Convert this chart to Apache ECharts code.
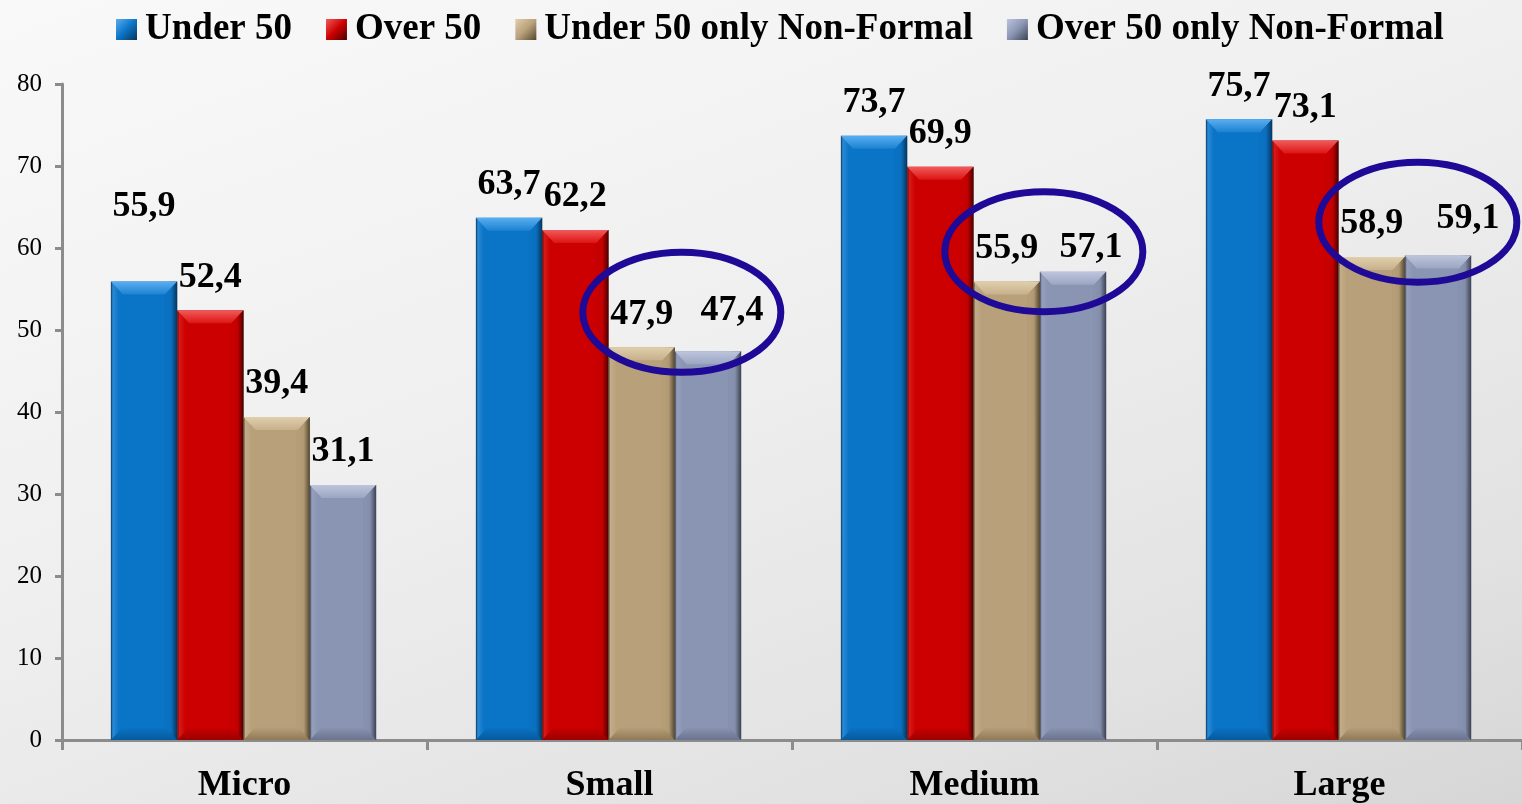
<!DOCTYPE html>
<html>
<head>
<meta charset="utf-8">
<script src="https://cdn.jsdelivr.net/npm/echarts@6/dist/echarts.min.js"></script>
<style>
  html, body { margin: 0; padding: 0; }
  body {
    width: 1522px; height: 804px; overflow: hidden;
    background: linear-gradient(160deg, #f9f9f9 0%, #efefef 45%, #e2e2e2 80%, #d6d6d6 100%);
  }
  #chart { width: 1522px; height: 804px; }
</style>
</head>
<body>
<div id="chart"></div>
<script>
// Categories and values
const categories = ['Micro', 'Small', 'Medium', 'Large'];
const seriesNames = ['Under 50', 'Over 50', 'Under 50 only Non-Formal', 'Over 50 only Non-Formal'];
const under50 = [55.9, 63.7, 73.7, 75.7];
const over50 = [52.4, 62.2, 69.9, 73.1];
const under50NonFormal = [39.4, 47.9, 55.9, 58.9];
const over50NonFormal = [31.1, 47.4, 57.1, 59.1];
const yMin = 0, yMax = 80, yStep = 10;
// categories whose non-formal pair is ringed
const ringedCategories = [1, 2, 3];

const allValues = [under50, over50, under50NonFormal, over50NonFormal];

// Bar look: main face, top bevel, right shade, bottom bevel
const palettes = [
  { main: '#0a74c6', light: '#2a8ad6', topA: '#5aaef0', topB: '#1c82d2', dark: '#08345c', bottom: '#065a9e' },
  { main: '#cc0000', light: '#d81a1a', topA: '#f25a5a', topB: '#dc1414', dark: '#4a0000', bottom: '#9c0000' },
  { main: '#b8a07a', light: '#c2ac88', topA: '#e0cfac', topB: '#c6b08a', dark: '#54482f', bottom: '#907a56' },
  { main: '#8a95b3', light: '#96a0bc', topA: '#bcc5dc', topB: '#9ca6c2', dark: '#3c4252', bottom: '#6a7490' }
];

const BAR_FRACTION = 66.5 / 366;
const FONT = "'Liberation Serif', 'Times New Roman', serif";

// Per-label nudges (pixels) relative to the default spot above the bar
const labelNudge = { '0-0': [0, -42], '3-1': [24, -8], '3-2': [18, 9], '3-3': [30, -4] };
// Ring placement nudges (pixels) per ringed category
const ringNudge = [[6, -37], [3, -25], [12, -34]];

function fmt(v) { return v.toFixed(1).replace('.', ','); }

function bevelBar(s) {
  const c = palettes[s];
  return function (params, api) {
    const cat = api.value(0), val = api.value(1);
    const base = api.coord([cat, 0]);
    const top = api.coord([cat, val]);
    const band = api.size([1, 0])[0];
    const w = band * BAR_FRACTION;
    const x = base[0] - 2 * w + s * w - 1;
    const yT = top[1], yB = base[1];
    const h = yB - yT;
    const tb = Math.min(13, h / 2);
    const sb = 12;
    const nudge = labelNudge[s + '-' + params.dataIndex] || [0, 0];
    return {
      type: 'group',
      children: [
        {
          type: 'rect',
          shape: { x: x, y: yT, width: w, height: h },
          style: {
            fill: {
              type: 'linear', x: 0, y: 0, x2: 1, y2: 0,
              colorStops: [
                { offset: 0, color: c.dark },
                { offset: 0.03, color: c.light },
                { offset: 0.12, color: c.main },
                { offset: 0.8, color: c.main },
                { offset: 1, color: c.dark }
              ]
            }
          }
        },
        {
          type: 'polygon',
          shape: { points: [[x, yT], [x + w, yT], [x + w - sb, yT + tb], [x + sb, yT + tb]] },
          style: {
            fill: {
              type: 'linear', x: 0, y: 0, x2: 0, y2: 1,
              colorStops: [{ offset: 0, color: c.topA }, { offset: 1, color: c.topB }]
            }
          }
        },
        {
          type: 'polygon',
          shape: { points: [[x, yB], [x + w, yB], [x + w - sb, yB - tb], [x + sb, yB - tb]] },
          style: {
            fill: {
              type: 'linear', x: 0, y: 0, x2: 0, y2: 1,
              colorStops: [{ offset: 0, color: c.main }, { offset: 1, color: c.bottom }]
            }
          }
        },
        {
          type: 'polygon',
          shape: { points: [[x + w, yT], [x + w, yB], [x + w - sb, yB - tb], [x + w - sb, yT + tb]] },
          style: {
            fill: {
              type: 'linear', x: 0, y: 0, x2: 1, y2: 0,
              colorStops: [{ offset: 0, color: c.main }, { offset: 0.5, color: c.main }, { offset: 1, color: c.dark }]
            },
            opacity: 0.85
          }
        },
        {
          type: 'text',
          x: x + w / 2 + nudge[0],
          y: yT - 33 + nudge[1],
          style: {
            text: fmt(val),
            fill: '#000',
            font: 'bold 36px ' + FONT,
            align: 'center',
            verticalAlign: 'middle'
          },
          z2: 20
        }
      ]
    };
  };
}

const barSeries = allValues.map(function (vals, s) {
  return {
    type: 'custom',
    name: seriesNames[s],
    renderItem: bevelBar(s),
    encode: { x: 0, y: 1 },
    data: vals.map(function (v, i) { return [i, v]; }),
    itemStyle: { color: palettes[s].main },
    clip: false,
    z: 2
  };
});

// Rings around the non-formal pair
const ringData = ringedCategories.map(function (ci) {
  return [ci, (under50NonFormal[ci] + over50NonFormal[ci]) / 2];
});

const ringSeries = {
  type: 'custom',
  name: 'rings',
  encode: { x: 0, y: 1 },
  data: ringData,
  clip: false,
  silent: true,
  z: 5,
  renderItem: function (params, api) {
    const cat = api.value(0), mid = api.value(1);
    const p = api.coord([cat, mid]);
    const band = api.size([1, 0])[0];
    const w = band * BAR_FRACTION;
    const n = ringNudge[params.dataIndex];
    return {
      type: 'ellipse',
      shape: { cx: p[0] + w + n[0], cy: p[1] + n[1], rx: 99, ry: 60 },
      style: { fill: null, stroke: '#1e0a96', lineWidth: 7 }
    };
  }
};

const chart = echarts.init(document.getElementById('chart'), null, { renderer: 'canvas' });
chart.setOption({
  backgroundColor: 'transparent',
  animation: false,
  legend: {
    data: seriesNames.map(function (n, s) {
      return {
        name: n,
        itemStyle: {
          color: {
            type: 'linear', x: 0, y: 0, x2: 1, y2: 1,
            colorStops: [
              { offset: 0, color: palettes[s].topA },
              { offset: 0.5, color: palettes[s].main },
              { offset: 1, color: palettes[s].dark }
            ]
          }
        }
      };
    }),
    icon: 'rect',
    left: 111,
    top: 6,
    itemWidth: 21,
    itemHeight: 21,
    itemGap: 34,
    textStyle: { fontFamily: FONT, fontWeight: 'bold', fontSize: 37, color: '#000', padding: [0, 0, 0, 3] }
  },
  grid: { left: 62, right: -4, top: 84, bottom: 63, containLabel: false },
  xAxis: {
    type: 'category',
    data: categories,
    boundaryGap: true,
    axisLine: { show: true, lineStyle: { color: '#8c8c8c', width: 3 } },
    axisTick: { show: true, length: 10, lineStyle: { color: '#8c8c8c', width: 3 } },
    axisLabel: { fontFamily: FONT, fontWeight: 'bold', fontSize: 36, color: '#000', margin: 28 },
    splitLine: { show: false }
  },
  yAxis: {
    type: 'value',
    min: yMin,
    max: yMax,
    interval: yStep,
    axisLine: { show: true, lineStyle: { color: '#8c8c8c', width: 3 } },
    axisTick: { show: true, length: 7, lineStyle: { color: '#8c8c8c', width: 3 } },
    axisLabel: { fontFamily: FONT, fontSize: 25, color: '#000', margin: 20 },
    splitLine: { show: false }
  },
  series: barSeries.concat([ringSeries])
});
</script>
</body>
</html>
